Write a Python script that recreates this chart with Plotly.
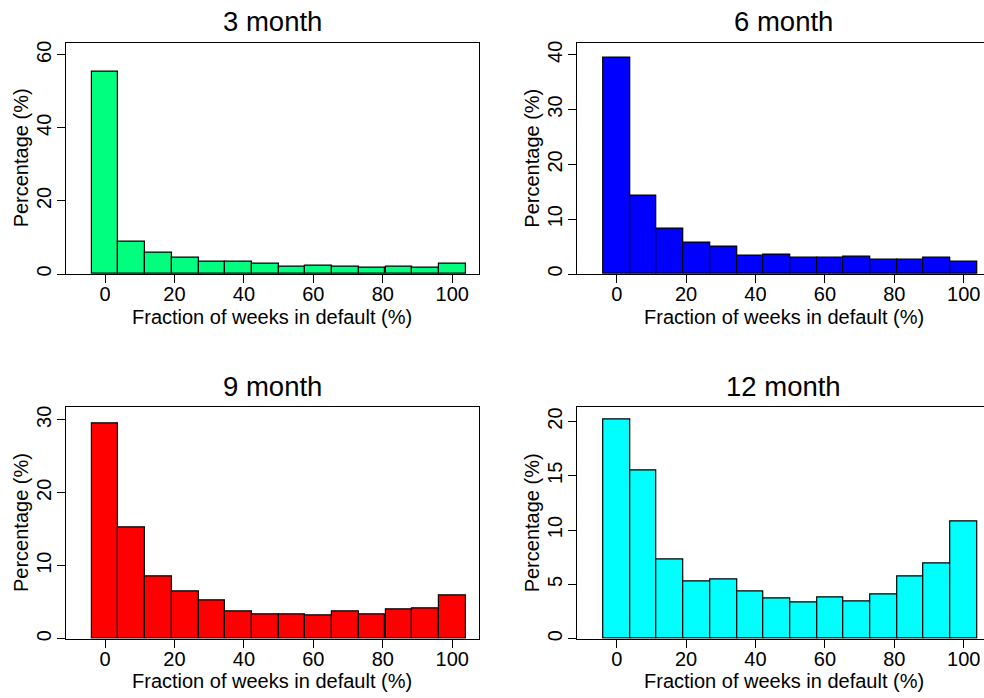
import plotly.graph_objects as go

# ---- data ----
bin_centers = [0, 7.69, 15.38, 23.08, 30.77, 38.46, 46.15, 53.85, 61.54, 69.23, 76.92, 84.62, 92.31, 100]
bin_width = 7.69

titles = ["3 month", "6 month", "9 month", "12 month"]
pct_3m = [55.3, 8.9, 5.8, 4.5, 3.4, 3.3, 2.9, 2.1, 2.3, 2.1, 1.8, 2.1, 1.6, 2.9]
pct_6m = [39.4, 14.3, 8.3, 5.7, 4.9, 3.3, 3.6, 3.0, 3.0, 3.1, 2.7, 2.7, 3.0, 2.3]
pct_9m = [29.5, 15.2, 8.5, 6.5, 5.3, 3.8, 3.3, 3.4, 3.2, 3.7, 3.3, 4.0, 4.1, 6.0]
pct_12m = [20.2, 15.5, 7.3, 5.3, 5.5, 4.4, 3.7, 3.3, 3.8, 3.4, 4.1, 5.7, 6.9, 10.8]
series = [pct_3m, pct_6m, pct_9m, pct_12m]
colors = ["#00FF7F", "#0000FF", "#FF0000", "#00FFFF"]

x_ticks = [0, 20, 40, 60, 80, 100]
y_ticks = [[0, 20, 40, 60], [0, 10, 20, 30, 40], [0, 10, 20, 30], [0, 5, 10, 15, 20]]
y_tops = [63.3, 42.2, 31.7, 21.3]

x_label = "Fraction of weeks in default (%)"
y_label = "Percentage (%)"

# ---- layout geometry (pixels) ----
W, H = 984, 698
FONT = "Liberation Sans, Arial, Helvetica, sans-serif"
panels = [
    dict(x0=66, x1=479, y0=41, y1=274, xr=[-11.23, 107.7], mirror_y=True),
    dict(x0=577.3, x1=984, y0=41, y1=274, xr=[-11.35, 105.85], mirror_y=False),
    dict(x0=66, x1=479, y0=408.3, y1=641.3, xr=[-11.23, 107.7], mirror_y=True),
    dict(x0=577.3, x1=984, y0=408.3, y1=641.3, xr=[-11.35, 105.85], mirror_y=False),
]

fig = go.Figure()
annotations = []
for i, (p, vals, col, ttl) in enumerate(zip(panels, series, colors, titles)):
    n = "" if i == 0 else str(i + 1)
    fig.add_trace(go.Bar(
        x=bin_centers, y=vals, width=bin_width,
        marker=dict(color=col, line=dict(color="black", width=1.2)),
        xaxis="x" + n, yaxis="y" + n, showlegend=False,
    ))
    xd = [p["x0"] / W, p["x1"] / W]
    yd = [1 - p["y1"] / H, 1 - p["y0"] / H]
    fig.update_layout(**{
        "xaxis" + n: dict(
            domain=xd, range=p["xr"], anchor="y" + n,
            tickvals=x_ticks, ticks="outside", ticklen=8, tickwidth=1.2, tickcolor="black",
            showline=True, linecolor="black", linewidth=1.2, mirror=True,
            showgrid=False, zeroline=False, ticklabelstandoff=-6,
            tickfont=dict(family=FONT, size=20, color="black"),
        ),
        "yaxis" + n: dict(
            domain=yd, range=[0, y_tops[i]], anchor="x" + n,
            tickvals=y_ticks[i], ticks="outside", ticklen=8, tickwidth=1.2, tickcolor="black",
            showline=True, linecolor="black", linewidth=1.2, mirror=p["mirror_y"],
            showgrid=False, zeroline=False, tickangle=-90, ticklabelstandoff=-2,
            tickfont=dict(family=FONT, size=20, color="black"),
        ),
    })
    cx = (p["x0"] + (p["x0"] + 412.5)) / 2
    cy = (p["y0"] + p["y1"]) / 2
    annotations.append(dict(text=ttl, x=cx / W, y=1 - (p["y0"] - 21) / H, xref="paper", yref="paper",
                            xanchor="center", yanchor="middle", showarrow=False,
                            font=dict(family=FONT, size=27.5, color="black")))
    annotations.append(dict(text=x_label, x=cx / W, y=1 - (p["y1"] + 43) / H, xref="paper", yref="paper",
                            xanchor="center", yanchor="middle", showarrow=False,
                            font=dict(family=FONT, size=20, color="black")))
    annotations.append(dict(text=y_label, x=(p["x0"] - 45) / W, y=1 - cy / H, xref="paper", yref="paper",
                            xanchor="center", yanchor="middle", showarrow=False, textangle=-90,
                            font=dict(family=FONT, size=20, color="black")))

fig.update_layout(
    width=W, height=H, margin=dict(l=0, r=0, t=0, b=0),
    paper_bgcolor="white", plot_bgcolor="white",
    annotations=annotations, bargap=0,
)
fig.write_html("out.html")
